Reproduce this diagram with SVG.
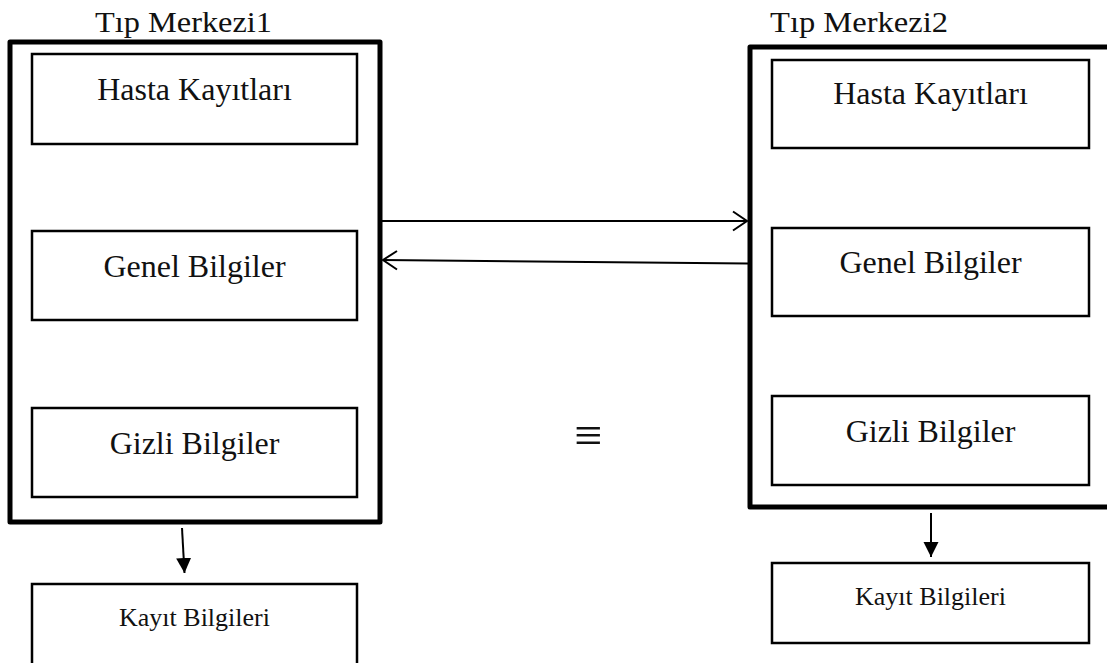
<svg xmlns="http://www.w3.org/2000/svg" width="1107" height="663" viewBox="0 0 1107 663">
<style>
.outer{fill:none;stroke:#000;stroke-width:5;stroke-linejoin:round}
.box{fill:#fff;stroke:#000;stroke-width:2.5}
.t{font-family:"Liberation Serif",serif;fill:#111;text-anchor:middle}
.lbl{font-size:32px}
.sm{font-size:26px}
.title{font-family:"Liberation Serif",serif;font-size:30px;fill:#111}
.ln{fill:none;stroke:#000;stroke-width:2}
</style>
<defs>
<marker id="tri" markerWidth="16" markerHeight="16" refX="15" refY="7.5" orient="auto" markerUnits="userSpaceOnUse">
<path d="M0,0 L15,7.5 L0,15 Z" fill="#000"/>
</marker>
</defs>
<rect width="1107" height="663" fill="#fff"/>
<g id="merkez1">
<text class="title" x="95" y="32" textLength="177" lengthAdjust="spacingAndGlyphs">Tıp Merkezi1</text>
<rect class="outer" x="10" y="42" width="370" height="480"/>
</g>
<g id="hasta1"><rect class="box" x="32" y="54" width="325" height="90"/><text class="t lbl" x="194.5" y="100">Hasta Kayıtları</text></g>
<g id="genel1"><rect class="box" x="32" y="231" width="325" height="89"/><text class="t lbl" x="194.5" y="277">Genel Bilgiler</text></g>
<g id="gizli1"><rect class="box" x="32" y="408" width="325" height="89"/><text class="t lbl" x="194.5" y="454">Gizli Bilgiler</text></g>
<g id="kayit1"><rect class="box" x="32" y="584" width="325" height="90"/><text class="t sm" x="194.5" y="626">Kayıt Bilgileri</text></g>

<g id="merkez2">
<text class="title" x="770" y="32" textLength="178" lengthAdjust="spacingAndGlyphs">Tıp Merkezi2</text>
<rect class="outer" x="750" y="47" width="370" height="460"/>
</g>
<g id="hasta2"><rect class="box" x="772" y="60" width="317" height="88"/><text class="t lbl" x="930.5" y="104">Hasta Kayıtları</text></g>
<g id="genel2"><rect class="box" x="772" y="228" width="317" height="88"/><text class="t lbl" x="930.5" y="273">Genel Bilgiler</text></g>
<g id="gizli2"><rect class="box" x="772" y="396" width="317" height="89"/><text class="t lbl" x="930.5" y="442">Gizli Bilgiler</text></g>
<g id="kayit2"><rect class="box" x="772" y="563" width="317" height="80"/><text class="t sm" x="930.5" y="605">Kayıt Bilgileri</text></g>

<g id="equiv"><text class="t" x="588" y="452" font-size="50">≡</text></g>

<g id="connectors">
<path class="ln" d="M382,221 L747,221"/>
<path class="ln" d="M733,211.5 L747,221 L733,230.5"/>
<path class="ln" d="M748,263.5 L383,260"/>
<path class="ln" d="M397,251 L383,260 L397,269.5"/>
<path class="ln" d="M182,528 L184.5,573" marker-end="url(#tri)"/>
<path class="ln" d="M931,513 L931,557" marker-end="url(#tri)"/>
</g>
</svg>
